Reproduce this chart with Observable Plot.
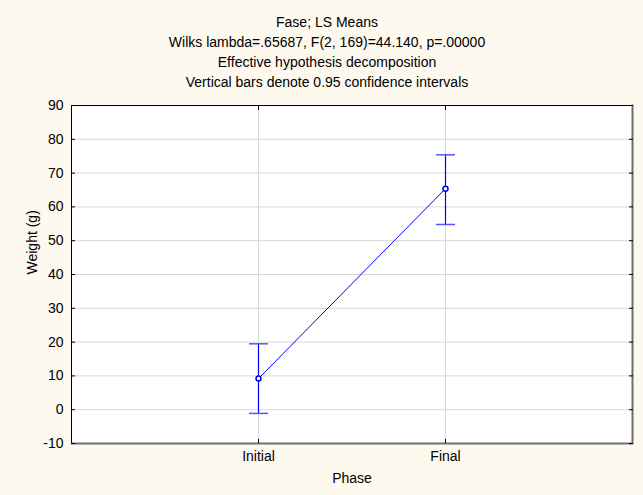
<!DOCTYPE html>
<html>
<head>
<meta charset="utf-8">
<script src="https://cdn.jsdelivr.net/npm/d3@7"></script>
<script src="https://cdn.jsdelivr.net/npm/@observablehq/plot@0.6"></script>
<style>
  html, body { margin: 0; padding: 0; background: #FEF9EF; }
  #title {
    width: 643px; box-sizing: border-box; padding: 12px 0 0 11px;
    text-align: center; font-family: "Liberation Sans", Arial, sans-serif;
    font-size: 14px; line-height: 20px; color: #000; height: 92px;
  }
</style>
</head>
<body>
<div id="title"></div>
<div id="chart"></div>
<script>
const titleLines = [
  "Fase; LS Means",
  "Wilks lambda=.65687, F(2, 169)=44.140, p=.00000",
  "Effective hypothesis decomposition",
  "Vertical bars denote 0.95 confidence intervals"
];
const phases = ["Initial", "Final"];
const means = [9.2, 65.4];
const lower = [-1.1, 54.8];
const upper = [19.5, 75.4];
const yTicks = [-10, 0, 10, 20, 30, 40, 50, 60, 70, 80, 90];
const xLabel = "Phase";
const yLabel = "Weight (g)";

document.getElementById("title").innerHTML = titleLines.map(t => `<div>${t}</div>`).join("");

const data = phases.map((p, i) => ({phase: p, mean: means[i], lo: lower[i], hi: upper[i]}));

const capSymbol = {
  draw(context, size) {
    const r = Math.sqrt(size / Math.PI);
    context.moveTo(-r, 0);
    context.lineTo(r, 0);
  }
};

const chart = Plot.plot({
  width: 643,
  height: 403,
  marginTop: 13,
  marginBottom: 52,
  marginLeft: 71,
  marginRight: 11,
  style: {background: "transparent", fontFamily: "'Liberation Sans', Arial, sans-serif", fontSize: "14px", color: "#000", overflow: "visible"},
  x: {type: "point", domain: phases, padding: 1, label: null},
  y: {domain: [-10, 90], label: null},
  marks: [
    Plot.frame({fill: "white", stroke: null}),
    Plot.gridY(yTicks, {stroke: "#d8d8d8", strokeOpacity: 1}),
    Plot.gridX(phases, {stroke: "#d8d8d8", strokeOpacity: 1}),
    Plot.frame({stroke: "#000", strokeWidth: 1}),
    Plot.frame({anchor: "right", stroke: "#6e6e6e", strokeWidth: 2}),
    Plot.ruleY([-10], {stroke: "#6e6e6e", strokeWidth: 2}),
    Plot.axisY(yTicks, {anchor: "left", tickSize: 0, tickPadding: 8, label: null, tickFormat: d => String(d)}),
    Plot.axisY(yTicks, {anchor: "left", tickSize: 4, dx: 4, tickFormat: () => "", label: null}),
    Plot.axisY(yTicks, {anchor: "right", tickSize: 4, dx: -4, tickFormat: () => "", label: null}),
    Plot.axisX(phases, {anchor: "bottom", tickSize: 0, tickPadding: 8, label: null}),
    Plot.axisX(phases, {anchor: "bottom", tickSize: 4, dy: -4, tickFormat: () => "", label: null}),
    Plot.axisX(phases, {anchor: "top", tickSize: 4, dy: 4, tickFormat: () => "", label: null}),
    Plot.text([yLabel], {frameAnchor: "left", rotate: -90, dx: -39, lineAnchor: "middle", fill: "#000"}),
    Plot.text([xLabel], {frameAnchor: "bottom", dy: 35, lineAnchor: "middle", fill: "#000"}),
    Plot.ruleX(data, {x: "phase", y1: "lo", y2: "hi", stroke: "#0000ff", strokeWidth: 1.2}),
    Plot.dot(data, {x: "phase", y: "lo", symbol: capSymbol, r: 9.5, stroke: "#5555ff", strokeWidth: 1.5, fill: "none"}),
    Plot.dot(data, {x: "phase", y: "hi", symbol: capSymbol, r: 9.5, stroke: "#5555ff", strokeWidth: 1.5, fill: "none"}),
    Plot.line(data, {x: "phase", y: "mean", stroke: "#0000ff", strokeWidth: 1}),
    Plot.dot(data, {x: "phase", y: "mean", r: 2.5, stroke: "#0000ff", strokeWidth: 1.5, fill: "white"})
  ]
});
document.getElementById("chart").appendChild(chart);
</script>
</body>
</html>
